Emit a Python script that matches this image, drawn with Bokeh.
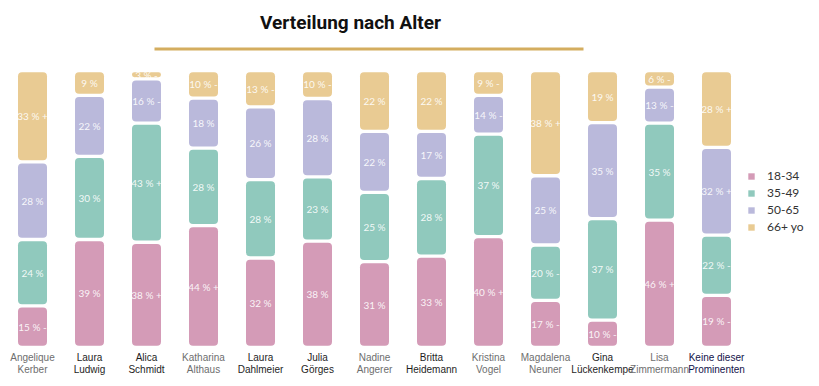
import numpy as np
from bokeh.plotting import figure
from bokeh.models import ColumnDataSource, Range1d, Label, BoxAnnotation, Legend, LegendItem
from bokeh.core.properties import value
from bokeh.embed import file_html
from bokeh.resources import INLINE

# ---------------- data ----------------
first_names = ["Angelique", "Laura", "Alica", "Katharina", "Laura", "Julia", "Nadine",
               "Britta", "Kristina", "Magdalena", "Gina", "Lisa", "Keine dieser"]
last_names = ["Kerber", "Ludwig", "Schmidt", "Althaus", "Dahlmeier", "Görges", "Angerer",
              "Heidemann", "Vogel", "Neuner", "Lückenkempe", "Zimmermann", "Prominenten"]
name_colors = ["#6e6e6e", "#1e1e1e", "#1e1e1e", "#6e6e6e", "#1e1e1e", "#1e1e1e", "#6e6e6e",
               "#1e1e1e", "#6e6e6e", "#6e6e6e", "#1e1e1e", "#6e6e6e", "#12124a"]

groups = ["18-34", "35-49", "50-65", "66+ yo"]
group_colors = ["#d49bb7", "#90c9bd", "#bab9db", "#e9cb93"]

v18 = [15, 39, 38, 44, 32, 38, 31, 33, 40, 17, 10, 46, 19]
v35 = [24, 30, 43, 28, 28, 23, 25, 28, 37, 20, 37, 35, 22]
v50 = [28, 22, 16, 18, 26, 28, 22, 17, 14, 25, 35, 13, 32]
v66 = [33, 9, 3, 10, 13, 10, 22, 22, 9, 38, 19, 6, 28]

m18 = ["-", "", "+", "+", "", "", "", "", "+", "-", "-", "+", "-"]
m35 = ["", "", "+", "", "", "", "", "", "", "-", "", "", "-"]
m50 = ["", "", "-", "", "", "", "", "", "-", "", "", "-", "+"]
m66 = ["+", "", "-", "-", "-", "-", "", "", "-", "+", "", "-", "+"]

values = [v18, v35, v50, v66]
marks = [m18, m35, m50, m66]

# ---------------- figure ----------------
W, H = 819, 386
step = 57.0          # px per category
x0 = 32.0            # px of first category center
ypx = 2.77           # px per percent
ybot = 39.0          # px from bottom of figure to bar base

p = figure(width=W, height=H, output_backend="svg", toolbar_location=None,
           x_range=Range1d(-x0 / step, (W - x0) / step),
           y_range=Range1d(-ybot / ypx, (H - ybot) / ypx),
           min_border=0)
p.axis.visible = False
p.grid.visible = False
p.outline_line_color = None
p.background_fill_color = "white"
p.border_fill_color = "white"

xs = np.arange(len(first_names))
totals = np.sum(np.array(values), axis=0)
gap = 0.6
cum = np.zeros(len(xs))
legend_items = []
for g, (vals, mk, col) in enumerate(zip(values, marks, group_colors)):
    vals = np.array(vals, dtype=float)
    bottom = cum / totals * 100
    cum = cum + vals
    top = cum / totals * 100
    labels = [f"{v} %" + (f" {m}" if m else "") for v, m in zip(vals.astype(int), mk)]
    src = ColumnDataSource(dict(x=xs, bottom=bottom + gap, top=top - gap,
                                ymid=(bottom + top) / 2, label=labels))
    r = p.vbar(x="x", bottom="bottom", top="top", width=29 / step, source=src,
               fill_color=col, line_color=None, border_radius=4)
    p.text(x="x", y="ymid", text="label", source=src, text_align="center",
           text_baseline="middle", text_color="white", text_alpha=0.9,
           text_font=value("Lato"), text_font_size="10px")
    legend_items.append(LegendItem(label=groups[g], renderers=[r]))

# category names (two lines)
nsrc = ColumnDataSource(dict(x=xs, first=first_names, last=last_names, color=name_colors))
p.text(x="x", y=-10 / ypx, text="first", source=nsrc, text_align="center",
       text_baseline="middle", text_color="color", text_font=value("Liberation Sans"),
       text_font_size="10px")
p.text(x="x", y=-22 / ypx, text="last", source=nsrc, text_align="center",
       text_baseline="middle", text_color="color", text_font=value("Liberation Sans"),
       text_font_size="10px")

# title and rule
p.add_layout(Label(x=350, y=H - 22, x_units="screen", y_units="screen",
                   text="Verteilung nach Alter", text_align="center", text_baseline="middle",
                   text_font="Roboto", text_font_style="bold", text_font_size="19px",
                   text_color="#111111"))
p.add_layout(BoxAnnotation(left=154, right=583, top=H - 47, bottom=H - 50,
                           left_units="screen", right_units="screen",
                           top_units="screen", bottom_units="screen",
                           fill_color="#d4ad5f", fill_alpha=1, line_color=None))

legend = Legend(items=legend_items, location=(747, H - 234), orientation="vertical",
                glyph_width=8, glyph_height=8, label_height=14, spacing=2,
                label_standoff=12, padding=0, margin=0,
                label_text_font="Lato", label_text_font_size="12px",
                label_text_color="#333333", border_line_color=None,
                background_fill_alpha=0)
p.add_layout(legend, "center")

open("out.html", "w").write(file_html(p, INLINE))
